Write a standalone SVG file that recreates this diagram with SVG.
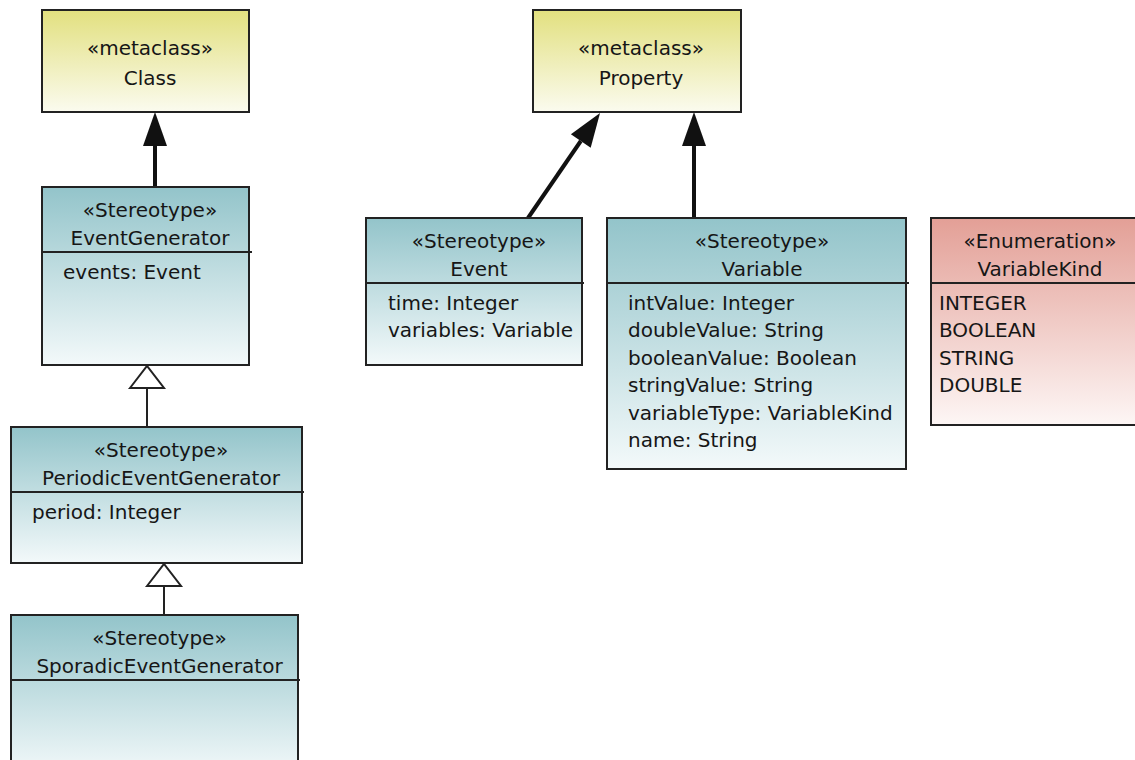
<svg xmlns="http://www.w3.org/2000/svg" width="1135" height="760" viewBox="0 0 1135 760">
<defs>
<linearGradient id="gTeal" x1="0" y1="0" x2="0" y2="1">
<stop offset="0" stop-color="#93c4ca"/>
<stop offset="1" stop-color="#f3f9fa"/>
</linearGradient>
<linearGradient id="gYellow" x1="0" y1="0" x2="0" y2="1">
<stop offset="0" stop-color="#e2e07f"/>
<stop offset="1" stop-color="#fbfbef"/>
</linearGradient>
<linearGradient id="gPink" x1="0" y1="0" x2="0" y2="1">
<stop offset="0" stop-color="#e39f96"/>
<stop offset="1" stop-color="#fdf6f5"/>
</linearGradient>
<marker id="ext" markerUnits="userSpaceOnUse" markerWidth="36" markerHeight="26" refX="0" refY="12" orient="auto" overflow="visible">
<path d="M0,0 L34,12 L0,24 z" fill="#111"/>
</marker>
<marker id="gen" markerUnits="userSpaceOnUse" markerWidth="26" markerHeight="38" refX="0" refY="17" orient="auto" overflow="visible">
<path d="M0,0 L22,17 L0,34 z" fill="#fff" stroke="#222" stroke-width="2" stroke-linejoin="miter"/>
</marker>
</defs>
<style>
.box{stroke:#222;stroke-width:2}
.div{stroke:#222;stroke-width:2}
text{font-family:"DejaVu Sans","Liberation Sans",sans-serif;font-size:20px;fill:#161616}
.c{text-anchor:middle}
.ext{stroke:#111;stroke-width:4;fill:none}
.gen{stroke:#222;stroke-width:2;fill:none}
</style>

<g id="connectors">
<line class="ext" x1="155" y1="187" x2="155" y2="146" marker-end="url(#ext)"/>
<line class="ext" x1="528" y1="218" x2="580.8" y2="141" marker-end="url(#ext)"/>
<line class="ext" x1="694" y1="218" x2="694" y2="146" marker-end="url(#ext)"/>
<line class="gen" x1="147" y1="427" x2="147" y2="388" marker-end="url(#gen)"/>
<line class="gen" x1="164" y1="615" x2="164" y2="586" marker-end="url(#gen)"/>
</g>

<g id="Class">
<rect class="box" x="42" y="10" width="207" height="102" fill="url(#gYellow)"/>
<text class="c" x="150" y="55">«metaclass»</text>
<text class="c" x="150" y="85">Class</text>
</g>

<g id="Property">
<rect class="box" x="533" y="10" width="208" height="102" fill="url(#gYellow)"/>
<text class="c" x="641" y="55">«metaclass»</text>
<text class="c" x="641" y="85">Property</text>
</g>

<g id="EventGenerator">
<rect class="box" x="42" y="187" width="207" height="178" fill="url(#gTeal)"/>
<line class="div" x1="42" y1="252" x2="252" y2="252"/>
<text class="c" x="150" y="217">«Stereotype»</text>
<text class="c" x="150" y="245">EventGenerator</text>
<text x="63" y="279">events: Event</text>
</g>

<g id="PeriodicEventGenerator">
<rect class="box" x="11" y="427" width="291" height="136" fill="url(#gTeal)"/>
<line class="div" x1="11" y1="492" x2="304" y2="492"/>
<text class="c" x="161" y="457">«Stereotype»</text>
<text class="c" x="161" y="485">PeriodicEventGenerator</text>
<text x="32" y="519">period: Integer</text>
</g>

<g id="SporadicEventGenerator">
<rect class="box" x="11" y="615" width="287" height="160" fill="url(#gTeal)"/>
<line class="div" x1="11" y1="680" x2="300" y2="680"/>
<text class="c" x="159.5" y="645">«Stereotype»</text>
<text class="c" x="159.5" y="673">SporadicEventGenerator</text>
</g>

<g id="Event">
<rect class="box" x="366" y="218" width="216" height="147" fill="url(#gTeal)"/>
<line class="div" x1="366" y1="283" x2="584" y2="283"/>
<text class="c" x="479" y="248">«Stereotype»</text>
<text class="c" x="479" y="276">Event</text>
<text x="388" y="310">time: Integer</text>
<text x="388" y="337.4">variables: Variable</text>
</g>

<g id="Variable">
<rect class="box" x="607" y="218" width="299" height="251" fill="url(#gTeal)"/>
<line class="div" x1="607" y1="283" x2="909" y2="283"/>
<text class="c" x="762" y="248">«Stereotype»</text>
<text class="c" x="762" y="276">Variable</text>
<text x="628" y="310">intValue: Integer</text>
<text x="628" y="337.4">doubleValue: String</text>
<text x="628" y="364.8">booleanValue: Boolean</text>
<text x="628" y="392.2">stringValue: String</text>
<text x="628" y="419.6">variableType: VariableKind</text>
<text x="628" y="447">name: String</text>
</g>

<g id="VariableKind">
<rect class="box" x="931" y="218" width="220" height="207" fill="url(#gPink)"/>
<line class="div" x1="931" y1="283" x2="1140" y2="283"/>
<text class="c" x="1040" y="248">«Enumeration»</text>
<text class="c" x="1040" y="276">VariableKind</text>
<text x="939" y="310">INTEGER</text>
<text x="939" y="337.4">BOOLEAN</text>
<text x="939" y="364.8">STRING</text>
<text x="939" y="392.2">DOUBLE</text>
</g>
</svg>
